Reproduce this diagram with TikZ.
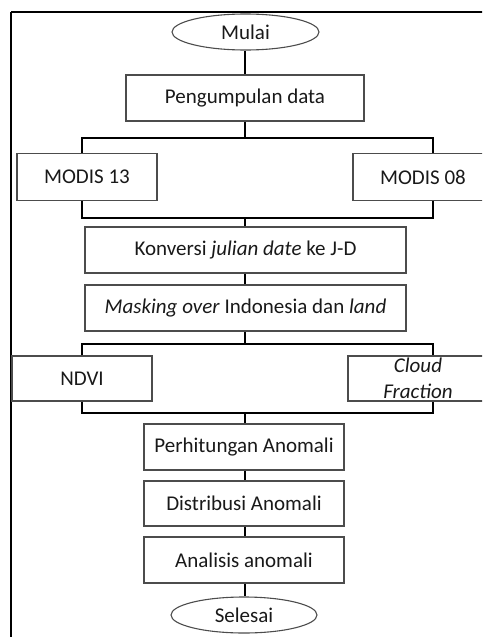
\documentclass[tikz,border=0pt]{standalone}
\usepackage{fontspec}
\setmainfont{Carlito}
\usetikzlibrary{shapes.geometric}
\begin{document}
\begin{tikzpicture}[x=1pt,y=-1pt,
  box/.style={draw=black!70,line width=1.1pt,rectangle,inner sep=0pt,align=center,font=\fontsize{21}{25.5}\selectfont,text=black!90},
  term/.style={draw=black!70,line width=1.1pt,ellipse,inner sep=0pt,font=\fontsize{21}{25.5}\selectfont,text=black!90},
  conn/.style={draw=black,line width=2pt}]
\useasboundingbox (0,0) rectangle (482,637);
\begin{scope}
\clip (0,0) rectangle (482,637);
\draw[line width=1.8pt] (11,12) -- (11,660) (11,12) -- (500,12);
\node[term,minimum width=147,minimum height=36] (mulai) at (245.5,32) {Mulai};
\node[box,minimum width=238,minimum height=46] (peng) at (245,98) {Pengumpulan data};
\node[box,minimum width=140,minimum height=47] (m13) at (87,177) {MODIS 13};
\node[box,minimum width=140,minimum height=47] (m08) at (423,177) {MODIS 08};
\node[box,minimum width=321,minimum height=46] (konv) at (245.5,250) {Konversi \textit{julian date} ke J-D};
\node[box,minimum width=321,minimum height=46] (mask) at (245.5,308) {\textit{Masking over} Indonesia dan \textit{land}};
\node[box,minimum width=140,minimum height=45] (ndvi) at (82,378.5) {NDVI};
\node[box,minimum width=140,minimum height=45] (cloud) at (418,378.5) {\textit{Cloud}\\\textit{Fraction}};
\node[box,minimum width=200,minimum height=46] (perh) at (244,447) {Perhitungan Anomali};
\node[box,minimum width=200,minimum height=45] (dist) at (244,503.5) {Distribusi Anomali};
\node[box,minimum width=200,minimum height=46] (anal) at (244,560) {Analisis anomali};
\node[term,minimum width=146,minimum height=36] (sel) at (244,615) {Selesai};
% junction coordinates
\coordinate (j1) at (245,138);
\coordinate (j1l) at (82,138);
\coordinate (j1r) at (433,138);
\coordinate (j2) at (245,218);
\coordinate (j2l) at (82,218);
\coordinate (j2r) at (433,218);
\coordinate (j3) at (245,344);
\coordinate (j3l) at (82,344);
\coordinate (j3r) at (433,344);
\coordinate (j4) at (245,413);
\coordinate (j4l) at (82,413);
\coordinate (j4r) at (433,413);
\draw[conn] (mulai.south -| j1) -- (peng.north -| j1);
\draw[conn] (peng.south -| j1) -- (j1);
\draw[conn] (m13.north -| j1l) -- (j1l) -- (j1r) -- (m08.north -| j1r);
\draw[conn] (m13.south -| j2l) -- (j2l) -- (j2r) -- (m08.south -| j2r);
\draw[conn] (j2) -- (konv.north -| j2);
\draw[conn] (konv.south -| j2) -- (mask.north -| j2);
\draw[conn] (mask.south -| j3) -- (j3);
\draw[conn] (ndvi.north -| j3l) -- (j3l) -- (j3r) -- (cloud.north -| j3r);
\draw[conn] (ndvi.south -| j4l) -- (j4l) -- (j4r) -- (cloud.south -| j4r);
\draw[conn] (j4) -- (perh.north -| j4);
\draw[conn] (perh.south -| j4) -- (dist.north -| j4);
\draw[conn] (dist.south -| j4) -- (anal.north -| j4);
\draw[conn] (anal.south -| j4) -- (sel.north -| j4);
\end{scope}
\end{tikzpicture}
\end{document}
